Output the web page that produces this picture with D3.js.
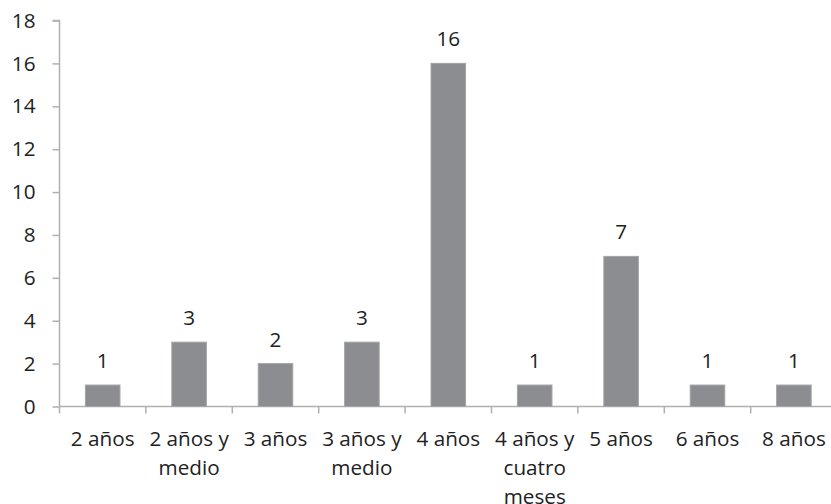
<!DOCTYPE html>
<html>
<head>
<meta charset="utf-8">
<script src="https://cdn.jsdelivr.net/npm/d3@7"></script>
<style>
  body { margin: 0; background: #fff; }
  text { font-family: "Open Sans", sans-serif; fill: #222; }
</style>
</head>
<body>
<div id="chart"></div>
<script>
const categories = ["2 años", "2 años y medio", "3 años", "3 años y medio", "4 años",
  "4 años y cuatro meses", "5 años", "6 años", "8 años"];
const values = [1, 3, 2, 3, 16, 1, 7, 1, 1];
const yTicks = [0, 2, 4, 6, 8, 10, 12, 14, 16, 18];

const W = 831, H = 504;
const left = 59.5, bandW = 86.4;
const yTop = 20.5, yBase = 406.5;
const fs = "20.7px";

const svg = d3.select("#chart").append("svg")
  .attr("width", W).attr("height", H);

const x = d3.scaleBand()
  .domain(categories)
  .range([left, left + bandW * categories.length])
  .paddingInner(0.6).paddingOuter(0.3);

const y = d3.scaleLinear().domain([0, 18]).range([yBase, yTop]);

const axisColor = "#b0b0b0";

// y axis
const yAxis = svg.append("g")
  .attr("transform", `translate(${left},0)`)
  .call(d3.axisLeft(y).tickValues(yTicks).tickSize(7).tickPadding(17));
yAxis.select(".domain").attr("stroke", axisColor).attr("stroke-width", 1.5)
  .attr("d", `M-7,${yTop}H0V${yBase}`);
yAxis.selectAll(".tick line").attr("stroke", axisColor).attr("stroke-width", 1.5);
yAxis.selectAll(".tick text").style("font-size", fs).attr("fill", "#222");

// x axis line and ticks between categories
const xg = svg.append("g");
xg.append("line")
  .attr("x1", left).attr("x2", W)
  .attr("y1", yBase).attr("y2", yBase)
  .attr("stroke", axisColor).attr("stroke-width", 1.5);
const bounds = d3.range(categories.length + 1).map(i => left + i * bandW);
xg.selectAll("line.tk").data(bounds).join("line")
  .attr("class", "tk")
  .attr("x1", d => d).attr("x2", d => d)
  .attr("y1", yBase).attr("y2", yBase + 7)
  .attr("stroke", axisColor).attr("stroke-width", 1.5);

// bars
svg.selectAll("rect.bar").data(values).join("rect")
  .attr("class", "bar")
  .attr("x", (d, i) => x(categories[i]))
  .attr("width", x.bandwidth())
  .attr("y", d => y(d))
  .attr("height", d => y(0) - y(d))
  .attr("fill", "#8c8d91")
  .attr("stroke", "#a3a4a7")
  .attr("stroke-width", 1);

// value labels
svg.selectAll("text.val").data(values).join("text")
  .attr("class", "val")
  .attr("x", (d, i) => x(categories[i]) + x.bandwidth() / 2)
  .attr("y", d => y(d) - 17)
  .attr("text-anchor", "middle")
  .style("font-size", fs)
  .text(d => d);

// category labels, wrapped to band width
function wrap(textSel, width) {
  textSel.each(function (d) {
    const t = d3.select(this);
    const words = d.split(" ");
    let line = [];
    let tspan = t.append("tspan").attr("x", t.attr("x")).attr("dy", 0);
    words.forEach(w => {
      line.push(w);
      tspan.text(line.join(" "));
      if (tspan.node().getComputedTextLength() > width && line.length > 1) {
        line.pop();
        tspan.text(line.join(" "));
        line = [w];
        tspan = t.append("tspan").attr("x", t.attr("x")).attr("dy", 29).text(w);
      }
    });
  });
}

svg.selectAll("text.cat").data(categories).join("text")
  .attr("class", "cat")
  .attr("x", d => x(d) + x.bandwidth() / 2)
  .attr("y", 446)
  .attr("text-anchor", "middle")
  .style("font-size", fs)
  .call(wrap, bandW);
</script>
</body>
</html>
